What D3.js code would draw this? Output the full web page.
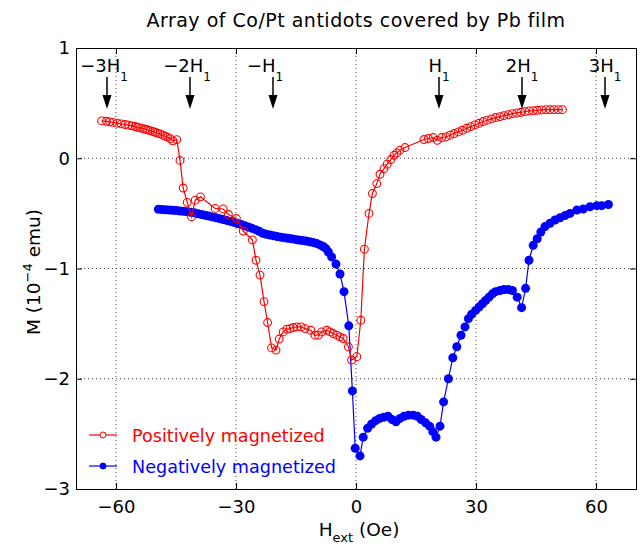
<!DOCTYPE html>
<html>
<head>
<meta charset="utf-8">
<script src="https://cdn.jsdelivr.net/npm/d3@7"></script>
<style>
  body { margin: 0; background: #fff; }
  text { font-family: "DejaVu Sans", sans-serif; }
</style>
</head>
<body>
<script>
// field values (Oe) and moments (1e-4 emu)
var posH = [-63.6,-62.4,-61.6,-60.8,-59.7,-58.7,-57.7,-56.8,-56.0,-55.2,-54.6,-53.9,-53.2,-52.6,-52.1,-51.5,-50.8,-50.2,-49.6,-49.0,-48.3,-47.7,-47.1,-46.4,-45.8,-44.8,
  -44.0,-43.2,-42.2,-41.1,-40.2,-38.9,-35.2,-33.2,-31.9,-29.9,-28.2,-25.9,-25.0,-24.0,-23.0,-22.1,-21.1,-20.0,-19.2,-18.2,-17.3,-16.5,-15.7,-14.8,-13.7,-12.75,-11.3,-10.25,-9.4,-8.6,-7.3,-6.5,-5.7,-4.8,-4.0,-3.2,-1.9,-1.1,0.2,1.2,2.1,3.25,
  4.1,5.2,6.0,7.0,7.8,8.7,9.5,10.2,11.0,12.25,17.0,18.1,19.3,20.3,21.4,22.5,23.5,24.5,25.6,26.6,27.7,28.7,29.75,30.75,31.8,32.8,33.9,34.9,36.0,37.0,38.1,39.1,40.2,41.2,42.25,43.25,44.3,45.3,46.4,47.5,48.5,49.5,50.6,51.6];
var posM = [0.339,0.335,0.330,0.325,0.318,0.312,0.306,0.300,0.294,0.288,0.281,0.275,0.269,0.263,0.257,0.251,0.242,0.236,0.227,0.221,0.209,0.200,0.191,0.178,0.158,0.169,
  -0.02,-0.27,-0.40,-0.53,-0.38,-0.35,-0.455,-0.46,-0.51,-0.547,-0.66,-0.74,-0.925,-1.06,-1.30,-1.49,-1.72,-1.74,-1.64,-1.575,-1.55,-1.545,-1.535,-1.53,-1.53,-1.545,-1.56,-1.605,-1.605,-1.575,-1.56,-1.575,-1.59,-1.605,-1.62,-1.635,-1.71,-1.83,-1.80,-1.47,-0.825,-0.50,
  -0.32,-0.23,-0.145,-0.094,-0.054,-0.012,0.027,0.048,0.073,0.097,0.170,0.179,0.188,0.163,0.188,0.193,0.209,0.224,0.239,0.254,0.272,0.287,0.302,0.317,0.333,0.345,0.357,0.369,0.378,0.387,0.396,0.405,0.411,0.417,0.423,0.429,0.432,0.435,0.438,0.441,0.441,0.441,0.441,0.441];

var negH = [-49.4,-48.5,-47.6,-46.7,-45.8,-44.9,-44.0,-43.1,-42.2,-41.3,-40.4,-39.5,-38.6,-37.7,-36.8,-35.9,-35.0,-34.1,-33.2,-32.3,-31.4,-30.5,-29.6,-28.7,-27.8,-26.9,-26.0,-25.1,-24.2,-23.3,-22.4,-21.5,-20.6,-19.7,-18.8,-17.9,-17.0,-16.1,-15.2,-14.3,-13.4,-12.5,-11.6,-10.7,-9.8,-9.0,-8.2,-7.5,-6.9,-6.1,-5.0,-4.0,-3.0,-1.8,-0.9,
  -0.2,1.0,1.8,2.9,3.9,4.9,5.9,6.9,8.0,9.0,10.0,11.0,12.0,13.1,14.3,15.3,16.3,17.4,18.4,19.2,20.0,21.0,21.9,23.1,24.2,25.2,26.25,27.25,28.1,28.9,29.9,30.75,31.6,32.4,33.25,34.1,34.9,36.0,37.0,38.1,39.1,40.3,41.4,42.4,43.25,44.3,45.3,46.2,47.25,48.5,49.75,51.0,52.25,53.5,55.2,56.8,58.5,60.2,61.4,63.1];
var negM = [-0.463,-0.465,-0.468,-0.470,-0.472,-0.475,-0.478,-0.481,-0.485,-0.490,-0.495,-0.503,-0.510,-0.517,-0.524,-0.532,-0.540,-0.548,-0.556,-0.564,-0.573,-0.582,-0.592,-0.602,-0.613,-0.624,-0.636,-0.648,-0.662,-0.680,-0.690,-0.697,-0.704,-0.710,-0.716,-0.721,-0.726,-0.731,-0.736,-0.741,-0.746,-0.751,-0.757,-0.765,-0.774,-0.786,-0.80,-0.82,-0.85,-0.895,-0.96,-1.05,-1.21,-1.52,-2.11,
  -2.63,-2.70,-2.53,-2.45,-2.41,-2.38,-2.36,-2.35,-2.34,-2.37,-2.39,-2.36,-2.34,-2.33,-2.33,-2.34,-2.37,-2.40,-2.43,-2.48,-2.53,-2.43,-2.21,-2.00,-1.81,-1.71,-1.605,-1.53,-1.455,-1.415,-1.38,-1.35,-1.32,-1.29,-1.26,-1.23,-1.21,-1.20,-1.19,-1.19,-1.20,-1.26,-1.355,-1.18,-0.925,-0.79,-0.73,-0.67,-0.62,-0.59,-0.56,-0.54,-0.52,-0.50,-0.47,-0.46,-0.44,-0.43,-0.43,-0.42];

var xTicks = [-60, -30, 0, 30, 60];
var yTicks = [1, 0, -1, -2, -3];
var H1 = 20.75;
var markerMult = [-3, -2, -1, 1, 2, 3];
var markerLabels = ["\u22123H", "\u22122H", "\u2212H", "H", "2H", "3H"];
var seriesNames = ["Positively magnetized", "Negatively magnetized"];
var seriesColors = ["#ff0000", "#0000ff"];

var width = 643, height = 547;
var svg = d3.select("body").append("svg").attr("width", width).attr("height", height);

var x = d3.scaleLinear().domain([-70, 70]).range([76, 636]);
var y = d3.scaleLinear().domain([-3, 1]).range([489, 48]);
var fmt = function (d) { return d < 0 ? "\u2212" + Math.abs(d) : String(d); };

// dotted grid
svg.append("g").selectAll("line").data(xTicks).enter().append("line")
  .attr("x1", d => x(d)).attr("x2", d => x(d)).attr("y1", y(1)).attr("y2", y(-3))
  .attr("stroke", "#444").attr("stroke-dasharray", "1,3").attr("stroke-width", 1);
svg.append("g").selectAll("line").data(yTicks.slice(1, 4)).enter().append("line")
  .attr("x1", x(-70)).attr("x2", x(70)).attr("y1", d => y(d)).attr("y2", d => y(d))
  .attr("stroke", "#444").attr("stroke-dasharray", "1,3").attr("stroke-width", 1);

// axes, ticks inward on all sides
var fs = 18;
var xb = svg.append("g").attr("transform", "translate(0," + y(-3) + ")")
  .call(d3.axisBottom(x).tickValues(xTicks).tickSize(-6).tickPadding(11).tickFormat(fmt));
var xt = svg.append("g").attr("transform", "translate(0," + y(1) + ")")
  .call(d3.axisTop(x).tickValues(xTicks).tickSize(-6).tickFormat(""));
var yl = svg.append("g").attr("transform", "translate(" + x(-70) + ",0)")
  .call(d3.axisLeft(y).tickValues(yTicks).tickSize(-6).tickPadding(6).tickFormat(fmt));
var yr = svg.append("g").attr("transform", "translate(" + x(70) + ",0)")
  .call(d3.axisRight(y).tickValues(yTicks).tickSize(-6).tickFormat(""));
[xb, xt, yl, yr].forEach(function (a) {
  a.select(".domain").attr("stroke", "#000").attr("stroke-width", 1);
  a.selectAll(".tick line").attr("stroke", "#000");
  a.selectAll("text").attr("font-size", fs).attr("fill", "#000")
    .style("font-family", "'DejaVu Sans', sans-serif");
});
xb.selectAll(".tick text").attr("dy", "0.72em");

// series
var blue = negH.map((h, i) => [h, negM[i]]);
var red = posH.map((h, i) => [h, posM[i]]);
var line = d3.line().x(d => x(d[0])).y(d => y(d[1]));

svg.append("path").datum(blue).attr("d", line).attr("fill", "none")
  .attr("stroke", seriesColors[1]).attr("stroke-width", 1.2);
svg.append("g").selectAll("circle").data(blue).enter().append("circle")
  .attr("cx", d => x(d[0])).attr("cy", d => y(d[1])).attr("r", 4.5)
  .attr("fill", seriesColors[1]);

svg.append("path").datum(red).attr("d", line).attr("fill", "none")
  .attr("stroke", seriesColors[0]).attr("stroke-width", 1.2);
svg.append("g").selectAll("circle").data(red).enter().append("circle")
  .attr("cx", d => x(d[0])).attr("cy", d => y(d[1])).attr("r", 3.9)
  .attr("fill", "none").attr("stroke", seriesColors[0]).attr("stroke-width", 1.1);

// H1 multiples with arrows
var labelShift = [-3, -3, -8, 0, 0, 0];
var ann = svg.append("g").selectAll("g").data(markerMult).enter().append("g")
  .attr("transform", d => "translate(" + x(d * H1) + ",0)");
ann.append("line").attr("x1", 0).attr("x2", 0).attr("y1", 77).attr("y2", 96)
  .attr("stroke", "#000").attr("stroke-width", 1.5);
ann.append("path").attr("d", "M-4.5,95L4.5,95L0,109Z").attr("fill", "#000");
var at = ann.append("text").attr("x", (d, i) => labelShift[i]).attr("y", 72)
  .attr("text-anchor", "middle").attr("font-size", fs).attr("fill", "#000");
at.append("tspan").text((d, i) => markerLabels[i]);
at.append("tspan").attr("font-size", 12).attr("dy", 9).text("1");

// title
svg.append("text").attr("x", 356).attr("y", 27).attr("text-anchor", "middle")
  .attr("font-size", 19).attr("letter-spacing", 0.5)
  .text("Array of Co/Pt antidots covered by Pb film");

// x label
var xlab = svg.append("text").attr("x", 359).attr("y", 536).attr("text-anchor", "middle")
  .attr("font-size", 18.5);
xlab.append("tspan").text("H");
xlab.append("tspan").attr("font-size", 13).attr("dy", 6).text("ext");
xlab.append("tspan").attr("dy", -6).text(" (Oe)");

// y label
var ylab = svg.append("text").attr("transform", "translate(40,272) rotate(-90)")
  .attr("text-anchor", "middle").attr("font-size", 18.5);
ylab.append("tspan").text("M (10");
ylab.append("tspan").attr("font-size", 13).attr("dy", -8).text("\u22124");
ylab.append("tspan").attr("dy", 8).text(" emu)");

// legend
var leg = svg.append("g").selectAll("g").data(seriesNames).enter().append("g")
  .attr("transform", (d, i) => "translate(0," + (435 + i * 31) + ")");
leg.append("line").attr("x1", 89).attr("x2", 117).attr("y1", 0).attr("y2", 0)
  .attr("stroke", (d, i) => seriesColors[i]).attr("stroke-width", 1.2);
leg.append("circle").attr("cx", 103).attr("cy", 0).attr("r", 3)
  .attr("fill", (d, i) => i ? seriesColors[i] : "#fff")
  .attr("stroke", (d, i) => seriesColors[i]);
leg.append("text").attr("x", 132).attr("y", 7).attr("font-size", 17.6)
  .attr("fill", (d, i) => seriesColors[i]).text(d => d);
</script>
</body>
</html>
